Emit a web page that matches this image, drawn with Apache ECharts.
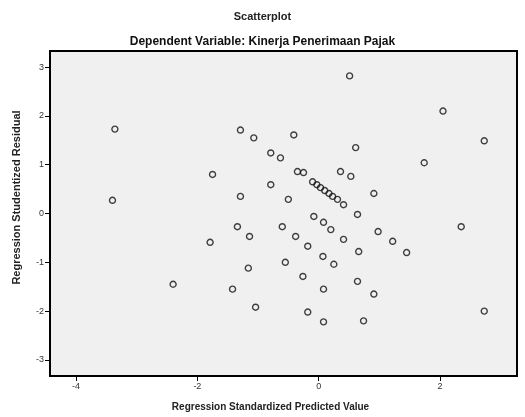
<!DOCTYPE html>
<html>
<head>
<meta charset="utf-8">
<script src="https://cdn.jsdelivr.net/npm/echarts@6/dist/echarts.min.js"></script>
<style>
  html, body { margin: 0; padding: 0; background: #fff; }
  #chart { width: 525px; height: 417px; }
</style>
</head>
<body>
<div id="chart"></div>
<script>
// standardized predicted value (x) vs studentized residual (y)
const predicted = [
  -3.36, -3.40, -2.40, -1.75, -1.29, -1.07, -0.79, -0.63, -0.79, -1.29,
  -0.50, -0.41, 0.51, 2.05, 2.73, 1.74, 0.61, -0.35, -0.25, 0.36,
  0.53, -0.10, -0.03, 0.03, 0.10, 0.17, 0.23, 0.31, 0.41, 0.91,
  -0.08, 0.64, -1.34, -1.14, -1.79, -0.60, -0.55, -1.16, -1.42, -1.04,
  0.08, 0.20, -0.38, -0.18, 0.07, 0.25, 0.41, 0.66, 0.98, 1.22,
  1.45, -0.26, 0.08, 0.64, 0.91, -0.18, 0.08, 0.74, 2.35, 2.73
]
const residual = [
  1.73, 0.27, -1.45, 0.80, 1.71, 1.55, 1.24, 1.14, 0.59, 0.35,
  0.29, 1.61, 2.82, 2.10, 1.49, 1.04, 1.35, 0.86, 0.84, 0.86,
  0.76, 0.65, 0.59, 0.53, 0.47, 0.41, 0.35, 0.29, 0.18, 0.41,
  -0.06, -0.02, -0.27, -0.47, -0.59, -0.27, -1.00, -1.12, -1.55, -1.92,
  -0.18, -0.33, -0.47, -0.67, -0.88, -1.04, -0.53, -0.78, -0.37, -0.57,
  -0.80, -1.29, -1.55, -1.39, -1.65, -2.02, -2.22, -2.20, -0.27, -2.00
]
const xTicks = [-4, -2, 0, 2]
const yTicks = [-3, -2, -1, 0, 1, 2, 3]

const points = predicted.map((v, i) => [v, residual[i]])

const font = 'Liberation Sans, Arial, sans-serif'

const chart = echarts.init(document.getElementById('chart'))
chart.setOption({
  backgroundColor: '#fff',
  animation: false,
  title: [
    {
      text: 'Scatterplot',
      left: 'center',
      top: 6,
      textStyle: { fontFamily: font, fontSize: 11, fontWeight: 'bold', color: '#222' },
    },
    {
      text: 'Dependent Variable: Kinerja Penerimaan Pajak',
      left: 'center',
      top: 31,
      textStyle: { fontFamily: font, fontSize: 12, fontWeight: 'bold', color: '#111' },
    },
  ],
  grid: {
    left: 50,
    right: 8,
    top: 51,
    bottom: 41,
    show: true,
    backgroundColor: '#f0f0f0',
    borderColor: '#000',
    borderWidth: 2,
  },
  xAxis: {
    type: 'value',
    min: -4.43,
    max: 3.27,
    name: 'Regression Standardized Predicted Value',
    nameLocation: 'middle',
    nameGap: 26,
    nameTextStyle: { fontFamily: font, fontSize: 10, fontWeight: 'bold', color: '#222', padding: [0, 26, 0, 0] },
    axisLine: { show: true, onZero: false, lineStyle: { color: '#000', width: 2 } },
    axisTick: { show: true, length: 5, customValues: xTicks, lineStyle: { color: '#000' } },
    axisLabel: { customValues: xTicks, fontFamily: font, fontSize: 9, color: '#333', margin: 6 },
    splitLine: { show: false },
  },
  yAxis: {
    type: 'value',
    min: -3.33,
    max: 3.33,
    name: 'Regression Studentized Residual',
    nameLocation: 'middle',
    nameGap: 28,
    nameTextStyle: { fontFamily: font, fontSize: 11, fontWeight: 'bold', color: '#222', padding: [0, 0, 0, 32] },
    axisLine: { show: true, onZero: false, lineStyle: { color: '#000', width: 2 } },
    axisTick: { show: true, length: 5, customValues: yTicks, lineStyle: { color: '#000' } },
    axisLabel: { customValues: yTicks, fontFamily: font, fontSize: 9, color: '#333', margin: 6 },
    splitLine: { show: false },
  },
  series: [
    {
      type: 'scatter',
      data: points,
      symbol: 'circle',
      symbolSize: 6,
      itemStyle: { color: 'rgba(0,0,0,0)', borderColor: '#111', borderWidth: 1.4 },
    },
  ],
})
</script>
</body>
</html>
